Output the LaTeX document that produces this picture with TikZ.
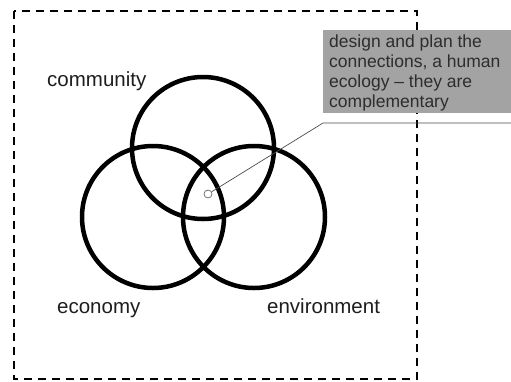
\documentclass[tikz,border=0pt]{standalone}
\usepackage{fontspec}
\setmainfont{Liberation Sans}
\definecolor{boxgray}{RGB}{163,163,163}
\definecolor{labelink}{RGB}{30,30,30}
\definecolor{boxink}{RGB}{45,45,45}
\tikzset{
  ring/.style={draw=black, line width=4.5pt, circle, inner sep=0pt, minimum size=142pt},
  labeltext/.style={anchor=base west, inner sep=0pt, text=labelink, font=\fontsize{20.5}{24}\selectfont},
  calloutbox/.style={fill=boxgray, draw=none, anchor=north west, inner sep=0pt},
  callouttext/.style={anchor=base west, inner sep=0pt, text=boxink, align=left, font=\fontsize{17.5}{19.7}\selectfont},
  frame/.style={draw=black, line width=2pt, dash pattern=on 8pt off 6pt},
  leader/.style={draw=black!70, line width=0.7pt}
}
\begin{document}
\begin{tikzpicture}[x=1pt,y=-1pt]
\useasboundingbox (0,0) rectangle (511,381);
\fill[white] (0,0) rectangle (511,381);
\draw[frame] (14,11) rectangle (417,379);
\node[ring] (community) at (203,148) {};
\node[ring] (economy) at (153,217) {};
\node[ring] (environment) at (254,217) {};
\node[labeltext] (lcommunity) at (47,86) {community};
\node[labeltext] (leconomy) at (57,313) {economy};
\node[labeltext] (lenvironment) at (267,313) {environment};
\node[calloutbox, minimum width=188pt, minimum height=83pt] (box) at (323,30) {};
\node[callouttext] (ctext) at (329,107) {design and plan the\\connections, a human\\ecology -- they are\\complementary};
\node[draw=black!55, line width=0.8pt, circle, inner sep=0pt, minimum size=8pt] (dot) at (208,194) {};
\coordinate (knee) at (323,123);
\coordinate (lend) at (511,123);
\draw[leader] (dot) -- (knee) -- (lend);
\end{tikzpicture}
\end{document}
